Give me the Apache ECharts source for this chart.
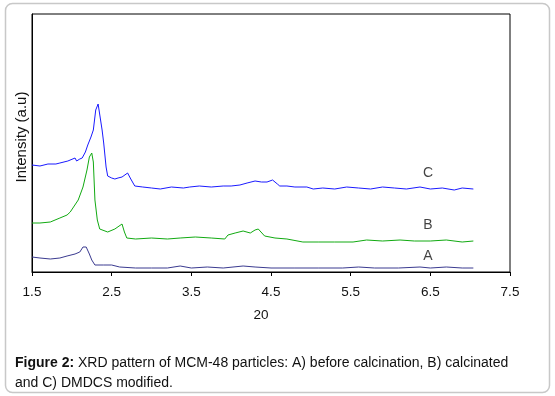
<!DOCTYPE html>
<html><head><meta charset="utf-8">
<script src="https://cdn.jsdelivr.net/npm/echarts@6/dist/echarts.min.js"></script>
<style>html,body{margin:0;padding:0;background:#fff}#c{width:555px;height:396px}</style>
</head><body><div id="c"></div>
<script>
// Sample C (DMDCS modified)
var xC = [1.50,1.60,1.70,1.80,1.85,1.95,2.04,2.06,2.10,2.13,2.17,2.20,2.24,2.27,2.30,2.33,2.35,2.38,2.40,2.43,2.45,2.50,2.54,2.58,2.63,2.70,2.74,2.79,2.89,3.00,3.11,3.25,3.40,3.48,3.60,3.75,3.90,4.00,4.11,4.20,4.30,4.38,4.45,4.52,4.58,4.61,4.70,4.80,4.95,5.03,5.15,5.30,5.45,5.60,5.75,5.90,6.05,6.20,6.37,6.50,6.65,6.80,6.90,7.04];
var yC = [107,106,108,108,109,111,114,111,113,114,120,127,135,142,162,168,167,142,129,105,96,94,93,94,95,99,93,86,85,84,83,85,84,85,86,85,86,86,87,89,91,90,90,92,88,86,86,85,85,83,84,83,85,84,83,85,84,83,85,83,84,82,84,83];
// Sample B (calcinated)
var xB = [1.50,1.60,1.73,1.85,1.94,1.98,2.08,2.14,2.19,2.22,2.25,2.27,2.29,2.32,2.35,2.45,2.54,2.63,2.66,2.69,2.80,3.00,3.20,3.36,3.55,3.75,3.92,3.96,4.05,4.15,4.24,4.30,4.34,4.42,4.55,4.70,4.90,5.10,5.30,5.53,5.70,5.90,6.12,6.30,6.50,6.70,6.90,7.04];
var yB = [49,49,50,54,57,60,72,85,102,115,119,110,72,52,43,40,43,48,40,34,33,34,33,34,35,34,33,37,39,41,39,42,43,36,34,33,30,30,30,30,32,31,32,31,31,32,30,31];
// Sample A (before calcination)
var xA = [1.50,1.60,1.73,1.85,1.94,2.04,2.10,2.14,2.18,2.22,2.25,2.29,2.40,2.50,2.60,2.80,3.00,3.20,3.36,3.50,3.70,3.90,4.15,4.30,4.50,4.80,5.10,5.40,5.60,5.80,6.10,6.37,6.50,6.70,6.90,7.04];
var yA = [15,14,13,14,16,18,20,25,25,18,12,7,7,7,5,4,4,4,6,4,5,4,6,5,4,4,4,4,5,4,4,5,4,5,4,4];
// Curve labels
var curveNames = ['C','B','A'];
var labelX = [6.47,6.47,6.47];
var labelY = [99,47,16];
// Axis ticks
var xMin = 1.5, xMax = 7.5, xStep = 1;

function pairs(xs, ys){ return xs.map(function(x,i){return [x, ys[i]];}); }

var chart = echarts.init(document.getElementById('c'), null, {renderer:'canvas'});
var font = 'Liberation Sans, Arial, sans-serif';
chart.setOption({
  animation:false,
  backgroundColor:'#fff',
  grid:{left:32,right:45,top:14,bottom:124,show:true,borderColor:'#000',borderWidth:1,backgroundColor:'transparent'},
  xAxis:{type:'value',min:xMin,max:xMax,interval:xStep,
    axisLine:{show:true,lineStyle:{color:'#000',width:1}},
    axisTick:{show:true,length:4,lineStyle:{color:'#000'}},
    splitLine:{show:false},
    axisLabel:{color:'#111',fontSize:13.5,fontFamily:font,margin:13,formatter:function(v){return v.toFixed(1);}},
    name:'20',nameLocation:'middle',nameGap:36,
    nameTextStyle:{color:'#111',fontSize:13.5,fontFamily:font,padding:[0,20,0,0]}},
  yAxis:{type:'value',min:0,max:258,
    axisLine:{show:true,lineStyle:{color:'#000',width:1}},
    axisTick:{show:false},axisLabel:{show:false},splitLine:{show:false},
    name:'Intensity (a.u)',nameLocation:'middle',nameGap:3,
    nameTextStyle:{color:'#111',fontSize:15,fontFamily:font,padding:[0,0,0,12]}},
  series:[
    {type:'line',data:pairs(xC,yC),showSymbol:false,lineStyle:{color:'#1a1aff',width:1},z:3},
    {type:'line',data:pairs(xB,yB),showSymbol:false,lineStyle:{color:'#11aa11',width:1},z:3},
    {type:'line',data:pairs(xA,yA),showSymbol:false,lineStyle:{color:'#3a3a90',width:1},z:3},
    {type:'scatter',symbolSize:0,data:curveNames.map(function(n,i){return {name:n,value:[labelX[i],labelY[i]]};}),
     label:{show:true,position:'inside',formatter:'{b}',color:'#111',fontSize:14,fontFamily:font}}
  ],
  graphic:[
    {type:'rect',shape:{x:5.5,y:3.5,width:544,height:389,r:7},style:{fill:'none',stroke:'#c8c8c8',lineWidth:1.5},z:-1},
    {type:'text',left:15,top:353,style:{
      text:'{b|Figure 2:} XRD pattern of MCM-48 particles: A) before calcination, B) calcinated\nand C) DMDCS modified.',
      fontSize:14,fontFamily:font,fill:'#111',lineHeight:20,
      rich:{b:{fontWeight:'bold',fontSize:14,fontFamily:font,fill:'#111'}}}}
  ]
});
</script></body></html>
